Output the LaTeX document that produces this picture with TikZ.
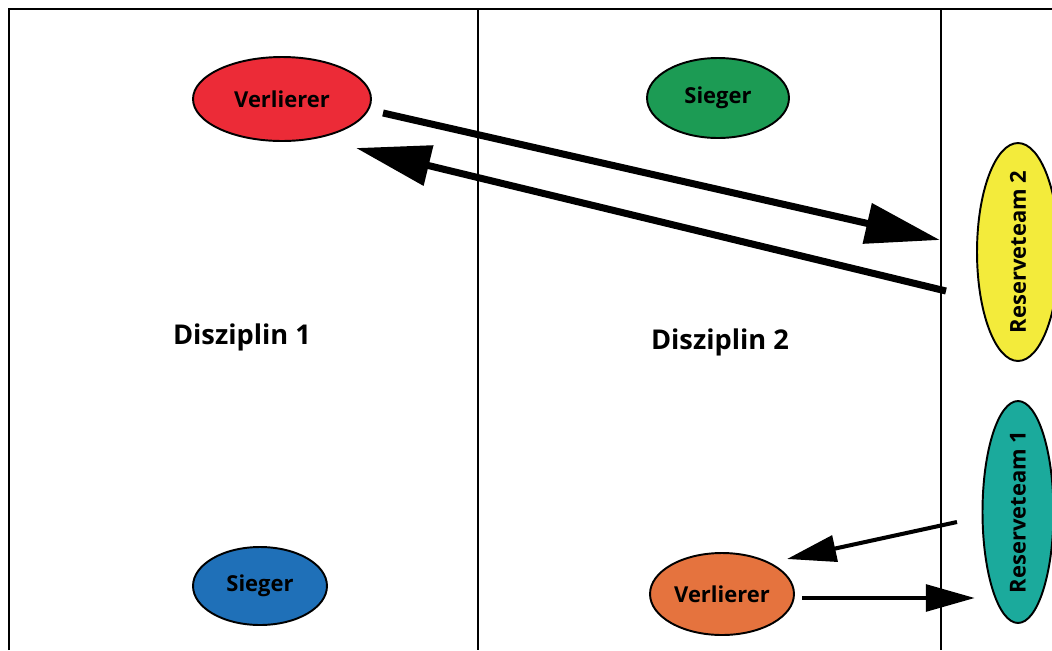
\documentclass[tikz,border=0pt]{standalone}
\usepackage{fontspec}
\setmainfont{Open Sans}
\usepackage{tikz}
\usetikzlibrary{arrows.meta,shapes.geometric}

\definecolor{verlRed}{HTML}{EC2B37}
\definecolor{siegGreen}{HTML}{1C9B54}
\definecolor{siegBlue}{HTML}{1F70B8}
\definecolor{verlOrange}{HTML}{E5733E}
\definecolor{resYellow}{HTML}{F3EB3B}
\definecolor{resTeal}{HTML}{1BAA9C}

\begin{document}
\begin{tikzpicture}[x=0.02cm,y=0.02cm]
\tikzstyle{every node}+=[inner sep=0pt]
\tikzstyle{team}=[ellipse,draw=black,line width=1.1pt,font=\fontsize{12.5}{15}\selectfont\bfseries]
\tikzstyle{reserve}=[team,rotate=90,inner xsep=-5pt]
\tikzstyle{bigarrow}=[line width=4pt,-{Triangle[length=42.5pt,width=22.7pt]}]
\tikzstyle{smallarrow}=[line width=2.3pt,-{Triangle[length=28pt,width=15pt]}]
\useasboundingbox (0,0) rectangle (1052,-650);
\clip (0,0) rectangle (1052,-650);
\draw [black,line width=1pt] (9,-650) -- (9,-9) -- (1060,-9);
\draw [black,line width=1pt] (478,-9) -- (478,-650);
\draw [black,line width=1pt] (941,-9) -- (941,-650);
\node [team,fill=verlRed,minimum width=3.56cm,minimum height=1.68cm] (v1) at (282,-99) {Verlierer};
\node [team,fill=siegGreen,minimum width=2.84cm,minimum height=1.6cm] (s2) at (718,-98) {Sieger};
\node [team,fill=siegBlue,minimum width=2.68cm,minimum height=1.56cm] (s1) at (260,-586) {Sieger};
\node [team,fill=verlOrange,minimum width=2.88cm,minimum height=1.64cm] (v2) at (722,-594) {Verlierer};
\node [reserve,fill=resYellow,minimum width=4.36cm,minimum height=1.64cm] (r2) at (1018,-252) {Reserveteam 2};
\node [reserve,fill=resTeal,minimum width=4.44cm,minimum height=1.42cm] (r1) at (1018,-512) {Reserveteam 1};
\node [font=\fontsize{15.5}{18}\selectfont\bfseries] (d1) at (242,-337) {Disziplin 1};
\node [font=\fontsize{15.5}{18}\selectfont\bfseries] (d2) at (720,-342) {Disziplin 2};
\coordinate (v1out) at (383,-113);
\coordinate (r2in) at (940,-240);
\coordinate (r2out) at (946,-291);
\coordinate (v1in) at (356,-148);
\coordinate (r1out) at (957,-522);
\coordinate (v2in) at (787,-559);
\coordinate (v2out) at (802,-598);
\coordinate (r1in) at (975,-598);
\draw [bigarrow] (v1out) -- (r2in);
\draw [bigarrow] (r2out) -- (v1in);
\draw [smallarrow] (r1out) -- (v2in);
\draw [smallarrow,line width=2.8pt] (v2out) -- (r1in);
\end{tikzpicture}
\end{document}
